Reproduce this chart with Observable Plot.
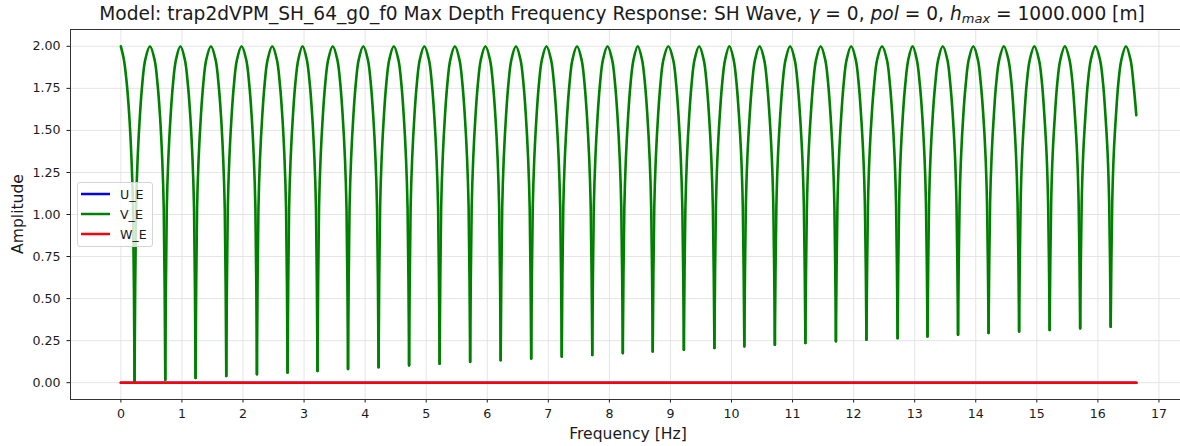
<!DOCTYPE html>
<html>
<head>
<meta charset="utf-8">
<script src="https://cdn.jsdelivr.net/npm/d3@7"></script>
<script src="https://cdn.jsdelivr.net/npm/@observablehq/plot@0.6"></script>
<style>
  body { margin: 0; background: #fff; }
  #wrap { position: relative; width: 1180px; height: 446px; overflow: hidden; font-family: "DejaVu Sans", sans-serif; color: #1a1a1a; background: #fff; }
  #chart { position: absolute; left: 0; top: 0; }
  #title { position: absolute; top: 3px; left: 622px; transform: translateX(-50%); white-space: nowrap; font-size: 18.6px; line-height: 22px; }
  #title sub { font-size: 70%; vertical-align: -0.25em; line-height: 0; }
  #xlabel { position: absolute; top: 425px; left: 628px; transform: translateX(-50%); white-space: nowrap; font-size: 15.6px; line-height: 18px; }
  #ylabel { position: absolute; left: 18px; top: 214px; transform: translate(-50%, -50%) rotate(-90deg); white-space: nowrap; font-size: 15.6px; line-height: 18px; }
  #legend { position: absolute; left: 77px; top: 182px; width: 76px; height: 65px; box-sizing: border-box; border: 1px solid #d4d4d4; border-radius: 3px; background: rgba(255,255,255,0.8); padding-top: 1px; }
  .item { height: 20px; display: flex; align-items: center; font-size: 12.6px; }
  .item svg { margin-left: 3px; margin-right: 9px; }
</style>
</head>
<body>
<div id="wrap">
  <div id="chart"></div>
  <div id="title">Model: trap2dVPM_SH_64_g0_f0 Max Depth Frequency Response: SH Wave, <i>γ</i> = 0, <i>pol</i> = 0, <i>h</i><sub><i>max</i></sub> = 1000.000 [m]</div>
  <div id="xlabel">Frequency [Hz]</div>
  <div id="ylabel">Amplitude</div>
  <div id="legend"></div>
</div>
<script>
// ---- data ----
const seriesNames = ["U_E", "V_E", "W_E"];
const seriesColors = ["#0000ff", "#008000", "#ff0000"];
const xTicks = [0, 1, 2, 3, 4, 5, 6, 7, 8, 9, 10, 11, 12, 13, 14, 15, 16, 17];
const yTicks = [0, 0.25, 0.5, 0.75, 1, 1.25, 1.5, 1.75, 2];

// U_E and W_E are flat at zero over the whole band
const flatFreq = [0, 16.63];
const uE = [0, 0];
const wE = [0, 0];

// V_E: one arch per row, [frequency Hz, amplitude]
const vEArches = [
  [[0,2.0],[0.05,1.92],[0.099,1.77],[0.137,1.59],[0.174,1.33],[0.199,1.04],[0.224,0.005]],
  [[0.224,0.005],[0.249,1.04],[0.274,1.33],[0.312,1.59],[0.349,1.77],[0.399,1.92],[0.476,2.0],[0.552,1.92],[0.602,1.77],[0.64,1.59],[0.677,1.33],[0.702,1.04],[0.727,0.018]],
  [[0.727,0.018],[0.752,1.04],[0.777,1.33],[0.815,1.59],[0.852,1.77],[0.902,1.92],[0.975,2.0],[1.048,1.92],[1.098,1.77],[1.136,1.59],[1.173,1.33],[1.198,1.04],[1.223,0.028]],
  [[1.223,0.028],[1.248,1.04],[1.273,1.33],[1.311,1.59],[1.348,1.77],[1.398,1.92],[1.475,2.0],[1.551,1.92],[1.601,1.77],[1.639,1.59],[1.676,1.33],[1.701,1.04],[1.726,0.04]],
  [[1.726,0.04],[1.751,1.04],[1.776,1.33],[1.814,1.59],[1.851,1.77],[1.901,1.92],[1.977,2.0],[2.053,1.92],[2.103,1.77],[2.141,1.59],[2.178,1.33],[2.203,1.04],[2.228,0.05]],
  [[2.228,0.05],[2.253,1.04],[2.278,1.33],[2.316,1.59],[2.353,1.77],[2.403,1.92],[2.479,2.0],[2.555,1.92],[2.605,1.77],[2.643,1.59],[2.68,1.33],[2.705,1.04],[2.73,0.06]],
  [[2.73,0.06],[2.755,1.04],[2.78,1.33],[2.818,1.59],[2.855,1.77],[2.905,1.92],[2.975,2.0],[3.045,1.92],[3.095,1.77],[3.133,1.59],[3.17,1.33],[3.195,1.04],[3.22,0.07]],
  [[3.22,0.07],[3.245,1.04],[3.27,1.33],[3.308,1.59],[3.345,1.77],[3.395,1.92],[3.47,2.0],[3.545,1.92],[3.595,1.77],[3.632,1.59],[3.67,1.33],[3.695,1.04],[3.72,0.082]],
  [[3.72,0.082],[3.745,1.04],[3.77,1.33],[3.808,1.59],[3.845,1.77],[3.895,1.92],[3.97,2.0],[4.045,1.92],[4.095,1.77],[4.132,1.59],[4.17,1.33],[4.195,1.04],[4.22,0.092]],
  [[4.22,0.092],[4.245,1.04],[4.27,1.33],[4.308,1.59],[4.345,1.77],[4.395,1.92],[4.47,2.0],[4.545,1.92],[4.595,1.77],[4.632,1.59],[4.67,1.33],[4.695,1.04],[4.72,0.103]],
  [[4.72,0.103],[4.745,1.04],[4.77,1.33],[4.808,1.59],[4.845,1.77],[4.895,1.92],[4.97,2.0],[5.045,1.92],[5.095,1.77],[5.132,1.59],[5.17,1.33],[5.195,1.04],[5.22,0.113]],
  [[5.22,0.113],[5.245,1.04],[5.27,1.33],[5.308,1.59],[5.345,1.77],[5.395,1.92],[5.47,2.0],[5.545,1.92],[5.595,1.77],[5.632,1.59],[5.67,1.33],[5.695,1.04],[5.72,0.124]],
  [[5.72,0.124],[5.745,1.04],[5.77,1.33],[5.808,1.59],[5.845,1.77],[5.895,1.92],[5.97,2.0],[6.045,1.92],[6.095,1.77],[6.132,1.59],[6.17,1.33],[6.195,1.04],[6.22,0.134]],
  [[6.22,0.134],[6.245,1.04],[6.27,1.33],[6.308,1.59],[6.345,1.77],[6.395,1.92],[6.47,2.0],[6.545,1.92],[6.595,1.77],[6.632,1.59],[6.67,1.33],[6.695,1.04],[6.72,0.144]],
  [[6.72,0.144],[6.745,1.04],[6.77,1.33],[6.808,1.59],[6.845,1.77],[6.895,1.92],[6.97,2.0],[7.045,1.92],[7.095,1.77],[7.132,1.59],[7.17,1.33],[7.195,1.04],[7.22,0.155]],
  [[7.22,0.155],[7.245,1.04],[7.27,1.33],[7.308,1.59],[7.345,1.77],[7.395,1.92],[7.47,2.0],[7.545,1.92],[7.595,1.77],[7.632,1.59],[7.67,1.33],[7.695,1.04],[7.72,0.165]],
  [[7.72,0.165],[7.745,1.04],[7.77,1.33],[7.808,1.59],[7.845,1.77],[7.895,1.92],[7.97,2.0],[8.045,1.92],[8.095,1.77],[8.132,1.59],[8.17,1.33],[8.195,1.04],[8.22,0.176]],
  [[8.22,0.176],[8.245,1.04],[8.27,1.33],[8.308,1.59],[8.345,1.77],[8.395,1.92],[8.465,2.0],[8.535,1.92],[8.585,1.77],[8.622,1.59],[8.66,1.33],[8.685,1.04],[8.71,0.186]],
  [[8.71,0.186],[8.735,1.04],[8.76,1.33],[8.798,1.59],[8.835,1.77],[8.885,1.92],[8.965,2.0],[9.045,1.92],[9.095,1.77],[9.132,1.59],[9.17,1.33],[9.195,1.04],[9.22,0.196]],
  [[9.22,0.196],[9.245,1.04],[9.27,1.33],[9.308,1.59],[9.345,1.77],[9.395,1.92],[9.47,2.0],[9.545,1.92],[9.595,1.77],[9.632,1.59],[9.67,1.33],[9.695,1.04],[9.72,0.206]],
  [[9.72,0.206],[9.745,1.05],[9.77,1.34],[9.808,1.59],[9.845,1.77],[9.895,1.92],[9.965,2.0],[10.035,1.92],[10.085,1.77],[10.122,1.59],[10.16,1.34],[10.185,1.05],[10.21,0.216]],
  [[10.21,0.216],[10.235,1.05],[10.26,1.34],[10.298,1.59],[10.335,1.77],[10.385,1.92],[10.46,2.0],[10.535,1.92],[10.585,1.77],[10.622,1.59],[10.66,1.34],[10.685,1.05],[10.71,0.226]],
  [[10.71,0.226],[10.735,1.05],[10.76,1.34],[10.798,1.59],[10.835,1.77],[10.885,1.92],[10.96,2.0],[11.035,1.92],[11.085,1.77],[11.122,1.59],[11.16,1.34],[11.185,1.05],[11.21,0.236]],
  [[11.21,0.236],[11.235,1.05],[11.26,1.34],[11.298,1.59],[11.335,1.77],[11.385,1.92],[11.46,2.0],[11.535,1.92],[11.585,1.77],[11.622,1.59],[11.66,1.34],[11.685,1.05],[11.71,0.246]],
  [[11.71,0.246],[11.735,1.05],[11.76,1.34],[11.798,1.59],[11.835,1.77],[11.885,1.92],[11.96,2.0],[12.035,1.92],[12.085,1.77],[12.122,1.59],[12.16,1.34],[12.185,1.05],[12.21,0.256]],
  [[12.21,0.256],[12.235,1.06],[12.26,1.35],[12.298,1.6],[12.335,1.77],[12.385,1.92],[12.465,2.0],[12.545,1.92],[12.595,1.77],[12.632,1.6],[12.67,1.35],[12.695,1.06],[12.72,0.265]],
  [[12.72,0.265],[12.745,1.06],[12.77,1.35],[12.808,1.6],[12.845,1.77],[12.895,1.92],[12.965,2.0],[13.035,1.92],[13.085,1.77],[13.122,1.6],[13.16,1.35],[13.185,1.06],[13.21,0.275]],
  [[13.21,0.275],[13.235,1.06],[13.26,1.35],[13.298,1.6],[13.335,1.77],[13.385,1.92],[13.46,2.0],[13.535,1.92],[13.585,1.77],[13.622,1.6],[13.66,1.35],[13.685,1.06],[13.71,0.285]],
  [[13.71,0.285],[13.735,1.06],[13.76,1.35],[13.798,1.6],[13.835,1.77],[13.885,1.92],[13.96,2.0],[14.035,1.92],[14.085,1.77],[14.122,1.6],[14.16,1.35],[14.185,1.06],[14.21,0.295]],
  [[14.21,0.295],[14.235,1.07],[14.26,1.35],[14.298,1.6],[14.335,1.78],[14.385,1.92],[14.46,2.0],[14.535,1.92],[14.585,1.78],[14.622,1.6],[14.66,1.35],[14.685,1.07],[14.71,0.304]],
  [[14.71,0.304],[14.735,1.07],[14.76,1.36],[14.798,1.6],[14.835,1.78],[14.885,1.92],[14.96,2.0],[15.035,1.92],[15.085,1.78],[15.122,1.6],[15.16,1.36],[15.185,1.07],[15.21,0.314]],
  [[15.21,0.314],[15.235,1.07],[15.26,1.36],[15.298,1.6],[15.335,1.78],[15.385,1.92],[15.46,2.0],[15.535,1.92],[15.585,1.78],[15.622,1.6],[15.66,1.36],[15.685,1.07],[15.71,0.323]],
  [[15.71,0.323],[15.735,1.07],[15.76,1.36],[15.798,1.6],[15.835,1.78],[15.885,1.92],[15.96,2.0],[16.035,1.92],[16.085,1.78],[16.122,1.6],[16.16,1.36],[16.185,1.07],[16.21,0.333]],
  [[16.21,0.333],[16.235,1.07],[16.26,1.36],[16.298,1.6],[16.335,1.78],[16.385,1.92],[16.46,2.0],[16.535,1.92],[16.585,1.77],[16.63,1.59]]
];

// ---- build tables for the library ----
const uRows = flatFreq.map((f, i) => ({f, a: uE[i]}));
const wRows = flatFreq.map((f, i) => ({f, a: wE[i]}));
const vRows = vEArches.flatMap((arch, k) => arch.map(([f, a]) => ({f, a, arch: k})));

const chart = Plot.plot({
  width: 1180,
  height: 446,
  marginLeft: 70,
  marginRight: -5,
  marginTop: 29,
  marginBottom: 47,
  style: {fontFamily: "'DejaVu Sans', sans-serif", fontSize: "12.6px", color: "#1a1a1a", background: "transparent"},
  x: {domain: [-0.825, 17.435], ticks: xTicks, tickSize: 3.5, tickPadding: 6, tickFormat: d => String(d), label: null},
  y: {domain: [-0.1, 2.1], ticks: yTicks, tickSize: 3.5, tickPadding: 6.5, tickFormat: d => d.toFixed(2), label: null},
  marks: [
    Plot.ruleX(xTicks, {stroke: "#dedede", strokeWidth: 0.8}),
    Plot.ruleY(yTicks, {stroke: "#dedede", strokeWidth: 0.8}),
    Plot.line(uRows, {x: "f", y: "a", stroke: seriesColors[0], strokeWidth: 2.6}),
    Plot.line(vRows, {x: "f", y: "a", z: "arch", stroke: seriesColors[1], strokeWidth: 2.6, curve: "catmull-rom", strokeLinecap: "round", strokeLinejoin: "round"}),
    Plot.line(wRows, {x: "f", y: "a", stroke: seriesColors[2], strokeWidth: 2.6}),
    Plot.frame({stroke: "#333", strokeWidth: 1})
  ]
});
document.getElementById("chart").appendChild(chart);

// legend
const legend = document.getElementById("legend");
seriesNames.forEach((name, i) => {
  const row = document.createElement("div");
  row.className = "item";
  row.innerHTML = `<svg width="30" height="6"><line x1="0" y1="3" x2="29" y2="3" stroke="${seriesColors[i]}" stroke-width="2.5"/></svg><span>${name}</span>`;
  legend.appendChild(row);
});
</script>
</body>
</html>
